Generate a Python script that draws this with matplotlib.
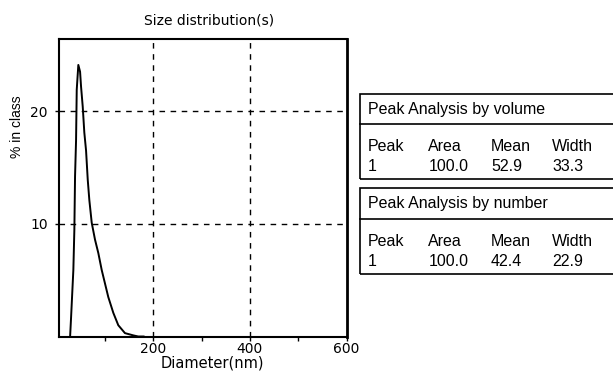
import matplotlib
matplotlib.use("Agg")
import matplotlib.pyplot as plt
from matplotlib.patches import Rectangle
from matplotlib.lines import Line2D

# size distribution
diameter_nm = [28, 30, 34.7, 36.8, 38.2, 40.3, 41.7, 45, 48.6, 50.6, 54.1, 57.4,
               61, 64.5, 67.8, 72.7, 79.5, 86.4, 93.4, 100.2, 107, 117.4, 127.7,
               141.5, 158.7, 169, 180]
percent_in_class = [0, 1.7, 5.9, 9.5, 14.2, 17.4, 21.9, 24.1, 23.5, 22.2, 20.4, 18.1,
                    16.5, 13.9, 12.1, 10.1, 8.6, 7.4, 5.9, 4.7, 3.5, 2.1, 1.0,
                    0.3, 0.1, 0, 0]

x_major = [200, 400, 600]
x_minor = [100, 300, 500]
y_major = [10, 20]

table_columns = ["Peak", "Area", "Mean", "Width"]
volume_row = ["1", "100.0", "52.9", "33.3"]
number_row = ["1", "100.0", "42.4", "22.9"]

W, H = 613, 381
fig = plt.figure(figsize=(W / 100, H / 100), dpi=100)
fig.patch.set_facecolor("white")


def fx(px):
    return px / W


def fy(py):
    return 1 - py / H


ax = fig.add_axes([fx(59), fy(336.5), fx(346.5) - fx(59), fy(39) - fy(336.5)])
ax.plot(diameter_nm, percent_in_class, color="black", lw=1.4)
ax.set_xlim(5, 600)
ax.set_ylim(0, 26.4)

ax.set_xticks(x_major)
ax.set_xticks(x_minor, minor=True)
ax.set_yticks(y_major)
ax.tick_params(which="both", direction="out", length=3, width=1, color="black")
ax.tick_params(axis="x", pad=1, labelsize=10)
ax.tick_params(axis="y", pad=5, labelsize=10)
for lab in ax.get_xticklabels() + ax.get_yticklabels():
    lab.set_family("DejaVu Sans")

for v in x_major[:-1]:
    ax.axvline(v, color="black", lw=1, ls=(0, (4, 4)))
for v in y_major:
    ax.axhline(v, color="black", lw=1, ls=(0, (4, 4)))

for side, s in ax.spines.items():
    s.set_color("black")
    s.set_linewidth(1.5)
ax.spines["right"].set_linewidth(2)

fig.text(fx(209), fy(21), "Size distribution(s)", ha="center", va="center",
         fontsize=10, family="DejaVu Sans")
fig.text(fx(212), fy(363), "Diameter(nm)", ha="center", va="center",
         fontsize=10.5, family="DejaVu Sans")
fig.text(fx(17), fy(127), "% in class", ha="center", va="center", rotation=90,
         fontsize=10, family="Liberation Sans")


# peak analysis boxes
def peak_box(top, sep, bottom, title, row):
    rect = Rectangle((fx(360), fy(bottom)), fx(700) - fx(360), fy(top) - fy(bottom),
                     transform=fig.transFigure, fill=False, edgecolor="black", lw=1.2)
    fig.patches.append(rect)
    fig.lines.append(Line2D([fx(360), fx(700)], [fy(sep), fy(sep)],
                            transform=fig.transFigure, color="black", lw=1.2))
    fig.text(fx(368), fy((top + sep) / 2), title, ha="left", va="center",
             fontsize=11.5, family="Liberation Sans")
    col_x = [368, 427.5, 491, 552]
    for cx, name, val in zip(col_x, table_columns, row):
        fig.text(fx(cx), fy(sep + 22.5), name, ha="left", va="center",
                 fontsize=11.5, family="Liberation Sans")
        fig.text(fx(cx + (1.5 if val == "100.0" else 0)), fy(sep + 42), val,
                 ha="left", va="center", fontsize=11.5, family="Liberation Sans")


peak_box(94.3, 124.3, 179.3, "Peak Analysis by volume", volume_row)
peak_box(188.3, 219.3, 274.3, "Peak Analysis by number", number_row)

fig.savefig("out.png", dpi=100, facecolor="white")
